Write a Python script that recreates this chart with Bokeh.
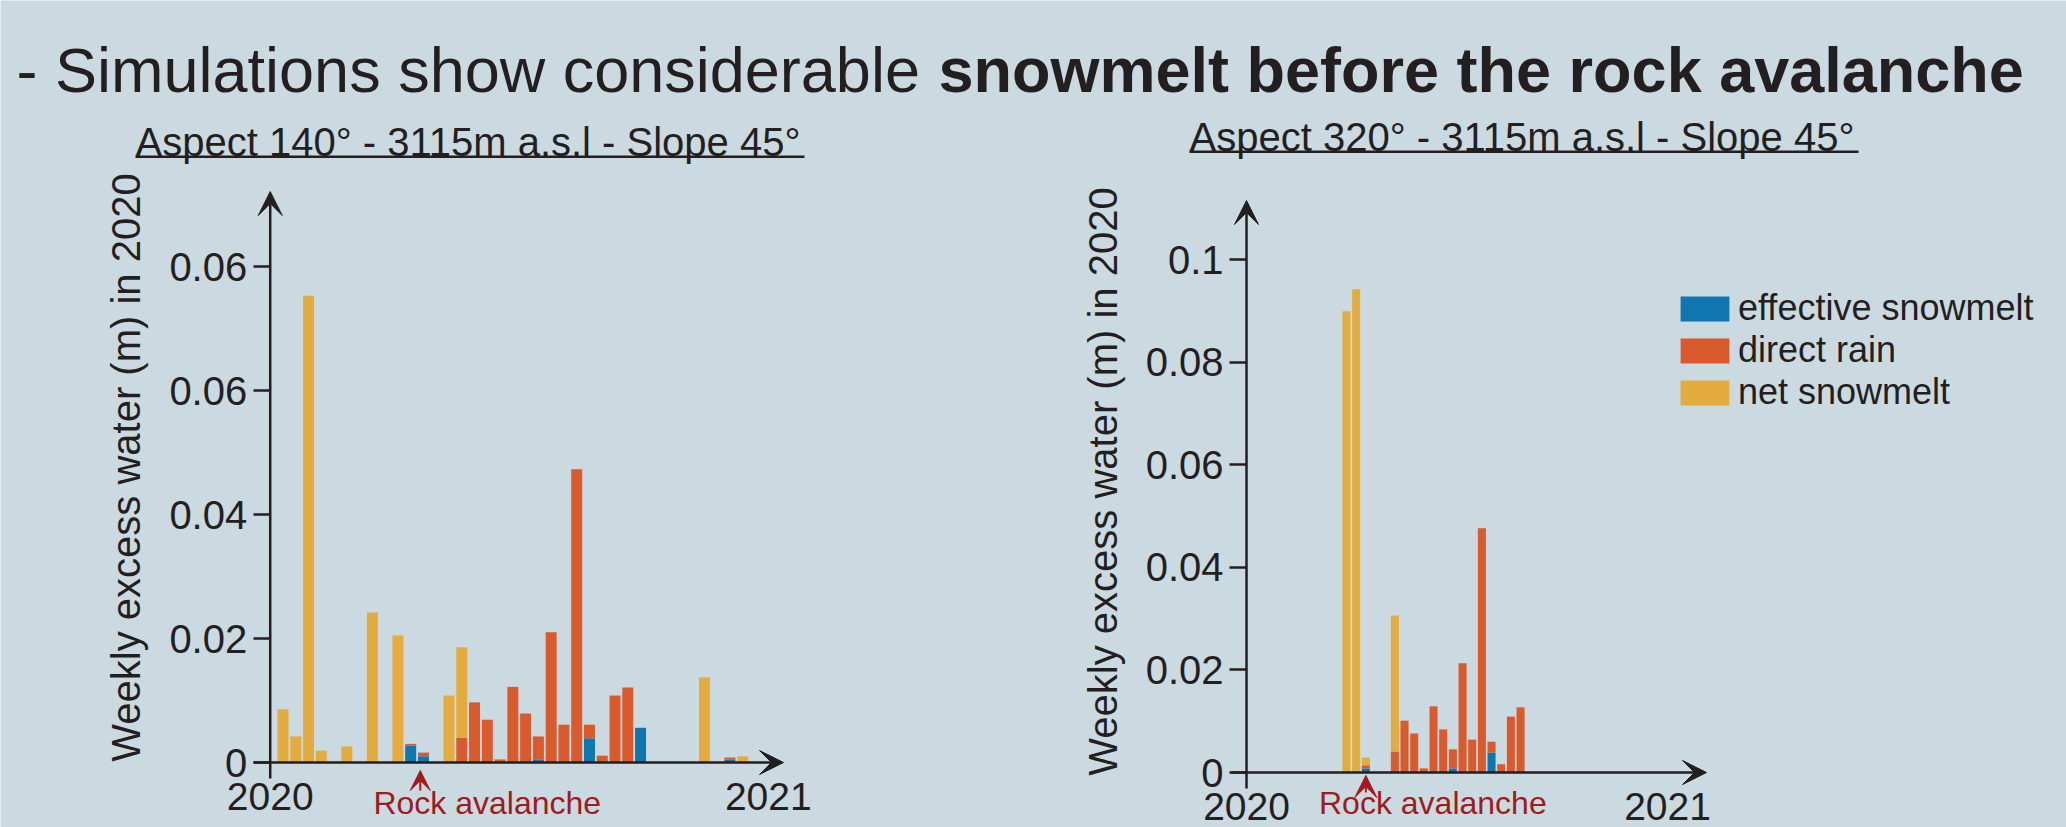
import math
from bokeh.plotting import figure
from bokeh.models import (LinearAxis, FixedTicker, Arrow, VeeHead, Label,
                          BoxAnnotation, Range1d, Legend, LegendItem, ColumnDataSource)
from bokeh.embed import file_html
from bokeh.resources import INLINE

# ---------------- data ----------------
components = ["eff", "rain", "net"]
component_labels = ["effective snowmelt", "direct rain", "net snowmelt"]

left_weeks = list(range(37))
left_eff = [0, 0, 0, 0, 0, 0, 0, 0, 0, 0, 0.0027, 0.0010, 0, 0, 0, 0, 0, 0, 0,
            0, 0.0005, 0, 0, 0, 0.0039, 0, 0, 0, 0.0056, 0, 0, 0, 0, 0, 0, 0.0005, 0]
left_rain = [0, 0, 0, 0, 0, 0, 0, 0, 0, 0, 0.0003, 0.0006, 0, 0, 0.0040, 0.0097,
             0.0069, 0.0005, 0.0122, 0.0079, 0.0037, 0.0210, 0.0061, 0.0473, 0.0022,
             0.0011, 0.0108, 0.0121, 0, 0, 0, 0, 0, 0, 0, 0.0003, 0]
left_net = [0.0086, 0.0042, 0.0753, 0.0019, 0, 0.0026, 0, 0.0242, 0, 0.0205, 0, 0,
            0, 0.0108, 0.0146, 0, 0, 0, 0, 0, 0, 0, 0, 0, 0, 0, 0, 0, 0, 0, 0, 0,
            0, 0.0137, 0, 0, 0.0010]

right_weeks = list(range(19))
right_eff = [0, 0, 0.0008, 0, 0, 0, 0, 0, 0, 0, 0, 0.0008, 0, 0, 0, 0.0039, 0, 0, 0]
right_rain = [0, 0, 0.0006, 0, 0, 0.0041, 0.0101, 0.0076, 0.0008, 0.0129, 0.0084,
              0.0037, 0.0213, 0.0064, 0.0476, 0.0021, 0.0016, 0.0109, 0.0127]
right_net = [0.0899, 0.0942, 0.0015, 0, 0, 0.0265, 0, 0, 0, 0, 0, 0, 0, 0, 0, 0, 0, 0, 0]

left_yticks = [0, 0.02, 0.04, 0.06, 0.08]
left_ytick_labels = ["0", "0.02", "0.04", "0.06", "0.06"]
right_yticks = [0, 0.02, 0.04, 0.06, 0.08, 0.1]
right_ytick_labels = ["0", "0.02", "0.04", "0.06", "0.08", "0.1"]
year_labels = ["2020", "2021"]
left_year_pos = [-1.0, 38.0]
right_year_pos = [-10.34, 33.2]
left_avalanche_week = 10.75
right_avalanche_week = 2.0

title_normal = "- Simulations show considerable "
title_bold = "snowmelt before the rock avalanche"
left_subtitle = "Aspect 140° - 3115m a.s.l - Slope 45°"
right_subtitle = "Aspect 320° - 3115m a.s.l - Slope 45°"
ylabel = "Weekly excess water (m) in 2020"
avalanche_label = "Rock avalanche"

# ---------------- style / layout ----------------
BG = "#cbdae0"
INK = "#231f20"
RED = "#9e1b1e"
COLORS = ["#0f76b0", "#d85a2d", "#e4ac3e"]
FONT = "Liberation Sans"

W, H = 2066, 827
BASE_K = 0.29      # baseline correction of horizontal labels (em)
ROT_SHIFT = 17     # correction of the rotated title (px)


def sx(px):
    return px


def sy(py):
    return H - py


left_cfg = dict(xr="default", yr="default", slot0_px=282.5, pitch=12.77, zero_py=762,
                ppu=6200, weeks=left_weeks, eff=left_eff, rain=left_rain, net=left_net,
                bar_w=0.86, year_pos=left_year_pos, yticks=left_yticks,
                ylabels=left_ytick_labels, yax_bottom_py=778, yax_top_py=191,
                xax_left_px=253, xax_right_px=783, ytitle_px=142, ytitle_py=467,
                sub_px=135, sub_py=153, subtitle=left_subtitle,
                aval_week=left_avalanche_week, aval_head=20, aval_base_py=790,
                aval_tip_py=770, aval_text_py=812)
right_cfg = dict(xr="rx", yr="ry", slot0_px=1346, pitch=9.67, zero_py=772, ppu=5130,
                 weeks=right_weeks, eff=right_eff, rain=right_rain, net=right_net,
                 bar_w=0.83, year_pos=right_year_pos, yticks=right_yticks,
                 ylabels=right_ytick_labels, yax_bottom_py=788, yax_top_py=200,
                 xax_left_px=1231, xax_right_px=1706, ytitle_px=1119, ytitle_py=481,
                 sub_px=1189, sub_py=148, subtitle=right_subtitle,
                 aval_week=right_avalanche_week, aval_head=22, aval_base_py=792,
                 aval_tip_py=775, aval_text_py=812)


def px2s(cfg, px):
    return (px - cfg["slot0_px"]) / cfg["pitch"]


def py2v(cfg, py):
    return (cfg["zero_py"] - py) / cfg["ppu"]


p = figure(width=W, height=H,
           x_range=Range1d(px2s(left_cfg, 0), px2s(left_cfg, W)),
           y_range=Range1d(py2v(left_cfg, H), py2v(left_cfg, 0)),
           x_axis_type=None, y_axis_type=None, title=None,
           toolbar_location=None, output_backend="svg", min_border=0,
           background_fill_color=BG, border_fill_color=BG, outline_line_color=None)
p.extra_x_ranges = {"rx": Range1d(px2s(right_cfg, 0), px2s(right_cfg, W))}
p.extra_y_ranges = {"ry": Range1d(py2v(right_cfg, H), py2v(right_cfg, 0))}


def draw_chart(cfg):
    xr, yr = cfg["xr"], cfg["yr"]
    rng = dict(x_range_name=xr, y_range_name=yr)
    src = ColumnDataSource(dict(week=cfg["weeks"], eff=cfg["eff"],
                                rain=cfg["rain"], net=cfg["net"]))
    rs = p.vbar_stack(components, x="week", width=cfg["bar_w"], source=src,
                      fill_color=COLORS, line_color=None, **rng)

    ax_x = cfg["year_pos"][0]
    p.add_layout(Arrow(end=VeeHead(size=24, fill_color=INK, line_color=INK, line_width=1),
                       x_start=ax_x, y_start=py2v(cfg, cfg["yax_bottom_py"]),
                       x_end=ax_x, y_end=py2v(cfg, cfg["yax_top_py"]),
                       line_color=INK, line_width=2.5, **rng))
    p.add_layout(Arrow(end=VeeHead(size=24, fill_color=INK, line_color=INK, line_width=1),
                       x_start=px2s(cfg, cfg["xax_left_px"]), y_start=0,
                       x_end=px2s(cfg, cfg["xax_right_px"]), y_end=0,
                       line_color=INK, line_width=2.5, **rng))

    yax = LinearAxis(ticker=FixedTicker(ticks=cfg["yticks"]),
                     major_label_overrides=dict(zip(cfg["yticks"], cfg["ylabels"])),
                     fixed_location=ax_x, **rng)
    yax.axis_line_color = None
    yax.major_tick_out = 17
    yax.major_tick_in = 0
    yax.major_tick_line_width = 2.5
    yax.major_tick_line_color = INK
    yax.minor_tick_line_color = None
    yax.major_label_standoff = 6
    yax.major_label_text_font = FONT
    yax.major_label_text_font_size = "40px"
    yax.major_label_text_color = INK
    p.add_layout(yax, "left")

    xax = LinearAxis(ticker=FixedTicker(ticks=cfg["year_pos"]),
                     major_label_overrides=dict(zip(cfg["year_pos"], year_labels)),
                     fixed_location=0, **rng)
    xax.axis_line_color = None
    xax.major_tick_line_color = None
    xax.major_tick_out = 0
    xax.major_tick_in = 0
    xax.minor_tick_line_color = None
    xax.major_label_standoff = 20
    xax.major_label_text_font = FONT
    xax.major_label_text_font_size = "39px"
    xax.major_label_text_color = INK
    p.add_layout(xax, "below")

    # y title
    p.add_layout(Label(x=sx(cfg["ytitle_px"] - ROT_SHIFT), y=sy(cfg["ytitle_py"]),
                       x_units="screen", y_units="screen", text=ylabel,
                       angle=math.pi / 2, text_align="center",
                       text_baseline="alphabetic", text_font=FONT,
                       text_font_size="40px", text_color=INK))
    # subtitle + underline
    p.add_layout(Label(x=sx(cfg["sub_px"]), y=sy(cfg["sub_py"]) + BASE_K * 40,
                       x_units="screen", y_units="screen", text=cfg["subtitle"],
                       text_align="left", text_baseline="alphabetic",
                       text_font=FONT, text_font_size="40px", text_color=INK))
    p.add_layout(BoxAnnotation(left=sx(cfg["sub_px"]), right=sx(cfg["sub_px"] + 669),
                               top=sy(cfg["sub_py"] + 2), bottom=sy(cfg["sub_py"] + 4.5),
                               left_units="screen", right_units="screen",
                               top_units="screen", bottom_units="screen",
                               fill_color=INK, fill_alpha=1, line_color=None))
    # rock avalanche marker
    aw = cfg["aval_week"]
    p.add_layout(Arrow(end=VeeHead(size=cfg["aval_head"], fill_color=RED,
                                   line_color=RED, line_width=1),
                       x_start=aw, y_start=py2v(cfg, cfg["aval_base_py"]),
                       x_end=aw, y_end=py2v(cfg, cfg["aval_tip_py"]),
                       line_color=RED, line_width=2, **rng))
    p.add_layout(Label(x=aw, y=py2v(cfg, cfg["aval_text_py"] - BASE_K * 32), x_offset=67,
                       text=avalanche_label, text_align="center",
                       text_baseline="alphabetic", text_font=FONT,
                       text_font_size="32px", text_color=RED, **rng))
    return rs


draw_chart(left_cfg)
rs = draw_chart(right_cfg)

# legend (rows ~41 px apart, centred where the reference's rows are)
LEG_ITEM_H = 41.4
LEG_MID_CENTER = 351.2
legend_bottom_py = LEG_MID_CENTER + 1.5 * LEG_ITEM_H
legend = Legend(items=[LegendItem(label=lab, renderers=[r])
                       for lab, r in zip(component_labels, rs)],
                location=(1674, sy(legend_bottom_py)), glyph_width=61, glyph_height=31,
                label_standoff=3, spacing=0, padding=0, margin=0,
                border_line_color=None, background_fill_alpha=0,
                label_text_font=FONT, label_text_font_size="36px",
                label_text_color=INK)
p.add_layout(legend)

# main title
title_y = sy(88) + BASE_K * 63
p.add_layout(Label(x=16, y=title_y, x_units="screen", y_units="screen",
                   text=title_normal, text_font=FONT, text_font_size="63px",
                   text_baseline="alphabetic", text_color=INK))
p.add_layout(Label(x=938, y=title_y, x_units="screen", y_units="screen",
                   text=title_bold, text_font=FONT, text_font_size="63px",
                   text_font_style="bold", text_baseline="alphabetic", text_color=INK))

open("out.html", "w").write(file_html(p, INLINE))
